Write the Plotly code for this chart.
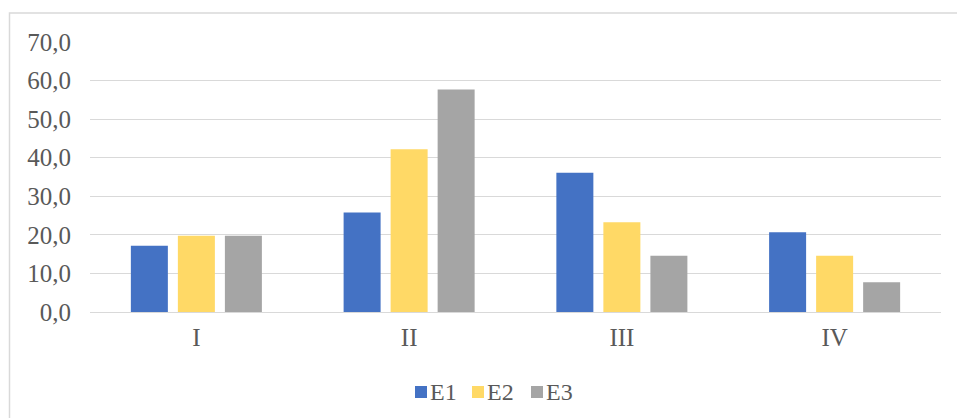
import plotly.graph_objects as go

categories = ["I", "II", "III", "IV"]
e1 = [17.2, 25.8, 36.1, 20.7]
e2 = [19.8, 42.2, 23.3, 14.6]
e3 = [19.8, 57.7, 14.6, 7.7]
series_names = ["E1", "E2", "E3"]
colors = ["#4472C4", "#FFD966", "#A5A5A5"]
tick_vals = [0, 10, 20, 30, 40, 50, 60, 70]
tick_text = ["0,0", "10,0", "20,0", "30,0", "40,0", "50,0", "60,0", "70,0"]

W, H = 957, 418
L, R, T, B = 90, 16, 42, 106
pw, ph = W - L - R, H - T - B


def px2x(px):
    return (px - L) / pw


def py2y(py):
    return (H - B - py) / ph


fig = go.Figure()
for name, vals, col in zip(series_names, [e1, e2, e3], colors):
    fig.add_trace(go.Bar(x=categories, y=vals, name=name, showlegend=False,
                         marker=dict(color=col, line=dict(width=0))))

FAM = "Liberation Serif, Times New Roman, serif"
TXT = "#595959"
font = dict(family=FAM, size=25, color=TXT)

shapes = [dict(type="rect", xref="paper", yref="paper",
               x0=px2x(9.5), x1=1.05, y0=-0.5, y1=py2y(13),
               line=dict(color="#D9D9D9", width=1.5), fillcolor="rgba(0,0,0,0)",
               layer="below")]
annotations = []
leg_x = [415, 472, 531]
for name, col, lx in zip(series_names, colors, leg_x):
    shapes.append(dict(type="rect", xref="paper", yref="paper",
                       x0=px2x(lx), x1=px2x(lx + 12), y0=py2y(398), y1=py2y(386),
                       line=dict(width=0), fillcolor=col))
    annotations.append(dict(text=name, xref="paper", yref="paper",
                            x=px2x(lx + 13), y=py2y(392), xanchor="left", yanchor="middle",
                            showarrow=False, font=dict(family=FAM, size=24, color=TXT)))

fig.update_layout(
    width=W, height=H,
    margin=dict(l=L, r=R, t=T, b=B),
    paper_bgcolor="white", plot_bgcolor="white",
    font=font,
    barmode="group", bargap=0.337, bargroupgap=0.213,
    showlegend=False,
    xaxis=dict(showgrid=False, showline=False, ticks="", ticklabelstandoff=8,
               automargin=False),
    yaxis=dict(range=[0, 70.01], tickvals=tick_vals, ticktext=tick_text,
               showgrid=True, gridcolor="#D9D9D9", gridwidth=1.3,
               zeroline=True, zerolinecolor="#D9D9D9", zerolinewidth=1.3,
               showline=False, ticks="", ticklabelstandoff=18, automargin=False),
    shapes=shapes,
    annotations=annotations,
)
fig.write_html("out.html")
